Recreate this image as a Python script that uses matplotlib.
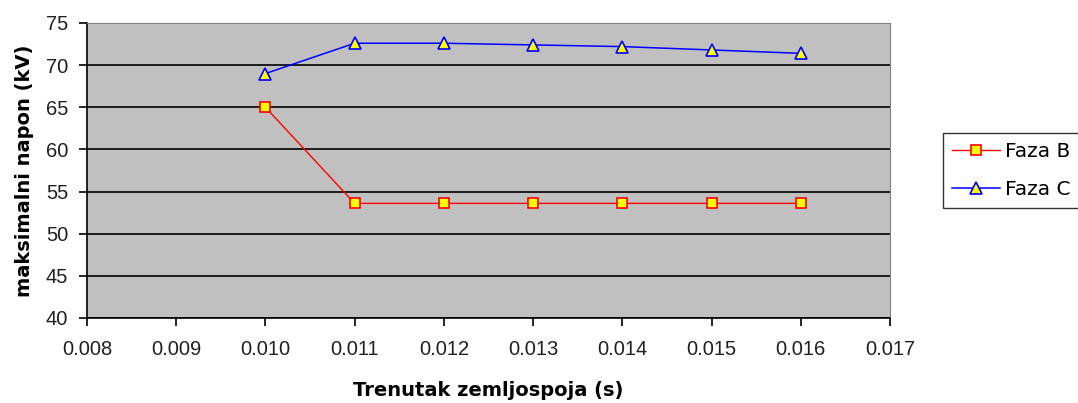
import matplotlib
matplotlib.use("Agg")
import matplotlib.pyplot as plt

# Fault instant (s) and peak voltages (kV) per phase
t_fault = [0.010, 0.011, 0.012, 0.013, 0.014, 0.015, 0.016]
faza_b = [65.0, 53.6, 53.6, 53.6, 53.6, 53.6, 53.6]
faza_c = [69.0, 72.6, 72.6, 72.4, 72.2, 71.8, 71.4]

x_ticks = [0.008, 0.009, 0.010, 0.011, 0.012, 0.013, 0.014, 0.015, 0.016, 0.017]
y_ticks = [40, 45, 50, 55, 60, 65, 70, 75]

plt.rcParams['font.family'] = ['Liberation Sans', 'DejaVu Sans']

W, H = 1078, 403
fig = plt.figure(figsize=(W / 100, H / 100), dpi=100)
ax = fig.add_axes([87 / W, 1 - 318 / H, (890 - 87) / W, (318 - 23) / H])
ax.set_facecolor('#c0c0c0')

ax.plot(t_fault, faza_b, color='#ff0000', lw=1.0, marker='s', ms=7,
        mfc='#ffff00', mec='#ff0000', mew=1.2, label='Faza B', zorder=3)
ax.plot(t_fault, faza_c, color='#0000ff', lw=1.1, marker='^', ms=8,
        mfc='#ffff00', mec='#0000ff', mew=1.2, label='Faza C', zorder=3)

ax.set_xlim(0.008, 0.017)
ax.set_ylim(40, 75)
ax.set_xticks(x_ticks)
ax.set_xticklabels([f"{v:.3f}" for v in x_ticks])
ax.set_yticks(y_ticks)
ax.yaxis.grid(True, color='black', lw=1.2)
ax.set_axisbelow(True)

for side in ('top', 'right'):
    ax.spines[side].set_color('#808080')
for side in ('left', 'bottom'):
    ax.spines[side].set_color('black')
    ax.spines[side].set_linewidth(1.2)

ax.tick_params(axis='both', direction='out', length=5.5, width=1.2,
               labelsize=14.5, colors='black', labelcolor='#202020')
ax.tick_params(axis='x', pad=10)
ax.tick_params(axis='y', pad=8)

label_font = dict(family=['DejaVu Sans'], fontsize=14, fontweight='bold')
ax.set_xlabel('Trenutak zemljospoja (s)', **label_font)
ax.set_ylabel('maksimalni napon (kV)', **label_font)
ax.xaxis.set_label_coords(0.5, -(381 - 318) / 295)
ax.yaxis.set_label_coords(-(87 - 34) / 803, 0.5)

leg = fig.legend(loc='upper left', bbox_to_anchor=(943 / W, 1 - 133 / H),
                 frameon=True, fancybox=False, edgecolor='black',
                 prop=dict(family=['DejaVu Sans'], size=14.5),
                 handlelength=2.4, borderpad=0.45, labelspacing=0.95,
                 handletextpad=0.25, borderaxespad=0)
leg.get_frame().set_linewidth(1.0)

fig.savefig('out.png', dpi=100, facecolor='white')
